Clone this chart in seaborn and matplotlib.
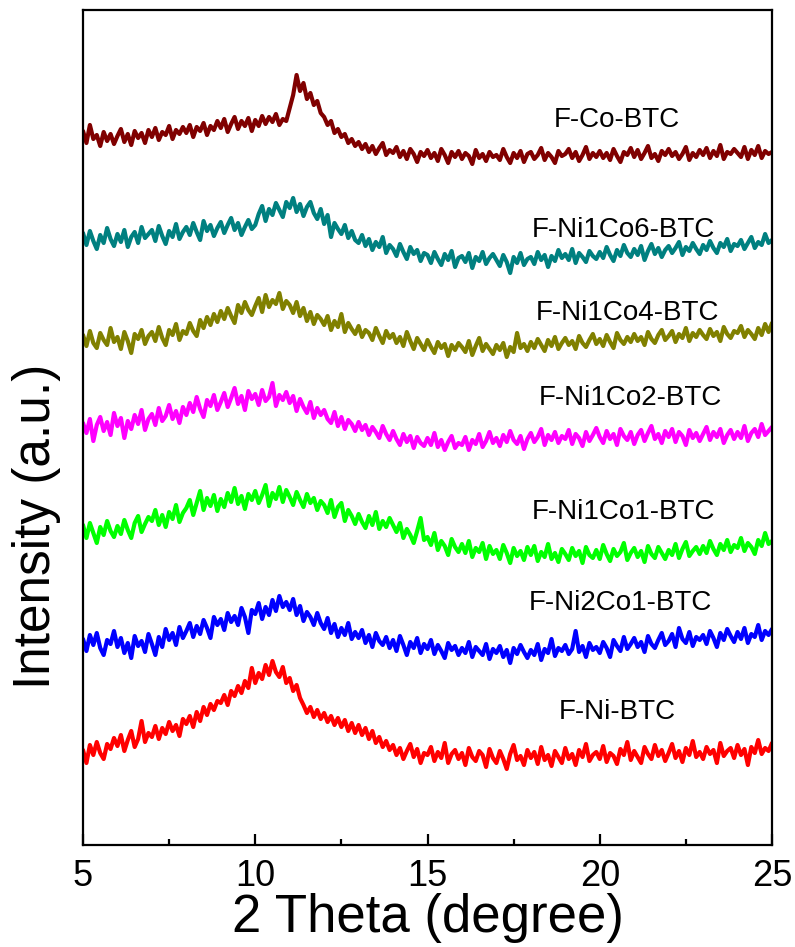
import numpy as np
import pandas as pd
import matplotlib
matplotlib.use("Agg")
import matplotlib.pyplot as plt
from matplotlib.ticker import MultipleLocator
import seaborn as sns

# 2 Theta grid (degree), step 0.1 from 5 to 25
two_theta = np.round(np.arange(5.0, 25.0001, 0.1), 1)

# Stacked intensities (a.u.)
f_ni_btc = [
    93, 80, 98, 88, 101, 90, 84, 99, 94, 105,
    97, 108, 92, 103, 112, 96, 104, 122, 101, 110,
    106, 117, 104, 115, 109, 121, 112, 118, 107, 124,
    119, 127, 116, 131, 122, 136, 128, 139, 133, 142,
    140, 148, 138, 152, 147, 157, 150, 162, 155, 175,
    160, 170, 164, 178, 168, 182, 171, 166, 176, 160,
    165, 152, 158, 145, 138, 130, 136, 126, 133, 124,
    130, 121, 127, 118, 125, 116, 123, 112, 120, 110,
    118, 108, 115, 104, 112, 100, 106, 96, 102, 93,
    98, 88, 95, 84, 92, 99, 86, 94, 80, 90,
    88, 96, 82, 91, 85, 100, 80, 89, 93, 84,
    90, 78, 95, 86, 82, 92, 88, 76, 94, 85,
    80, 92, 84, 74, 89, 98, 83, 87, 78, 93,
    85, 91, 79, 96, 83, 88, 77, 92, 86, 80,
    95, 84, 89, 78, 93, 86, 99, 82, 88, 91,
    84, 97, 81, 90, 87, 79, 94, 88, 101, 83,
    92, 86, 80, 96, 89, 84, 98, 87, 93, 82,
    90, 99, 85, 92, 81, 95, 88, 102, 86, 91,
    84, 96, 89, 93, 80, 100, 87, 92, 95, 85,
    98, 88, 94, 78, 96, 90, 103, 89, 95, 92,
    100,
]
f_ni2co1_btc = [
    204, 192, 208, 198, 210, 195, 188, 203, 199, 212,
    196, 205, 190, 200, 185, 207, 197, 202, 191, 209,
    199, 188, 206, 196, 214, 203, 210, 198, 216, 205,
    212, 220, 206, 217, 209, 223, 215, 205, 226, 218,
    224, 213, 230, 221, 227, 218, 235, 226, 210, 233,
    229, 240, 224, 236, 228, 243, 232, 247, 236, 241,
    233, 244, 228, 237, 222, 231, 226, 218, 230, 220,
    214, 225, 210, 219, 206, 215, 208, 220, 204, 211,
    205, 213, 200, 208, 196, 210, 202, 198, 206, 195,
    203, 192, 207, 198, 188, 201, 195, 205, 190, 199,
    194, 203, 189, 198, 192, 185, 200, 193, 197, 188,
    195, 190, 201, 186, 196, 192, 188, 199, 184, 194,
    190, 197, 186, 193, 180, 195, 189, 198, 191, 185,
    193, 188, 199, 183, 194, 190, 204, 187, 195, 192,
    198, 189, 194, 212, 191, 197, 186, 200, 193, 196,
    190, 201, 195, 186, 203, 197, 192, 206, 194, 199,
    205, 196, 201, 191, 207, 199, 195, 203, 210, 198,
    202, 209, 196, 215, 204, 200, 211, 197, 206, 203,
    208, 199, 212, 205, 196, 210, 203, 214, 207, 201,
    211, 204, 215, 200, 209, 206, 218, 203, 212, 208,
    214,
]
f_ni1co1_btc = [
    318, 305, 320, 310, 300, 316, 308, 322, 312, 306,
    317, 309, 323, 313, 305, 320, 327, 311, 319, 326,
    322, 333, 318, 328, 316, 331, 324, 338, 321, 330,
    335, 343, 328, 340, 352, 333, 345, 337, 348, 332,
    344, 336, 350, 341, 355, 339, 347, 334, 349, 343,
    352, 340, 348, 358, 337, 350, 344, 356, 341, 353,
    346, 338, 351, 343, 336, 349, 340, 345, 333, 342,
    338, 330, 343, 326, 336, 340, 322, 333, 327, 319,
    329, 321, 315, 327, 318, 331, 314, 322, 316, 325,
    318, 311, 320, 305, 314, 308, 300, 312, 325, 303,
    306, 298, 310, 293, 302, 297, 288, 304, 296, 291,
    299, 290, 302, 286, 295, 291, 300, 284, 297, 289,
    293, 284, 298, 290, 280, 295, 287, 292, 283, 296,
    288, 297, 282, 291, 286, 299, 284, 290, 281, 294,
    289, 283, 295, 287, 292, 280, 296, 288, 285, 293,
    284, 298, 289, 282, 294, 287, 291, 300, 283, 290,
    295, 286, 292, 281, 297, 289, 285, 296, 290, 284,
    293, 288, 299, 285, 294, 301, 287, 292, 296, 289,
    297, 290, 302, 294, 288, 299, 293, 303, 291, 298,
    295, 305, 292, 300, 296, 289, 303, 297, 310, 299,
    302,
]
f_ni1co2_btc = [
    420, 410, 424, 402, 418, 426, 412, 421, 408, 430,
    417, 425, 405, 422, 414, 428, 419, 433, 413, 424,
    429, 418, 435, 422, 427, 438, 424, 432, 420, 436,
    428, 440, 431, 446, 434, 426, 443, 437, 448, 433,
    441, 450, 436, 445, 455, 439, 447, 433, 452, 444,
    449, 438, 453, 442, 446, 460, 437, 448, 443, 451,
    440, 447, 432, 444, 436, 430, 441, 425, 435, 428,
    433, 424, 420, 431, 417, 426, 414, 423, 419, 412,
    421, 413, 418, 408, 416, 411, 405, 417, 409, 403,
    412, 404, 398, 409, 401, 407, 395, 406, 400, 397,
    405, 398, 410, 396, 403, 393, 401, 407, 395, 400,
    398, 406, 393, 403, 399, 409, 396, 402, 411, 400,
    405, 397, 408, 401, 412, 403, 399, 407, 394, 404,
    410, 401, 406, 414, 398, 408, 403, 411, 400, 407,
    404, 413, 399, 409, 405, 397, 411, 402, 408, 415,
    406, 400, 412, 404, 409, 398, 414, 407, 403, 411,
    399, 408, 413, 402, 410, 417, 404, 409, 400, 412,
    406, 414, 401, 411, 407, 398, 413, 405, 410, 402,
    409, 416, 403, 411, 406, 414, 400, 408, 413, 404,
    411, 405, 417, 402, 410, 414, 406, 419, 408, 412,
    416,
]
f_ni1co4_btc = [
    508, 497, 512, 500, 495, 510, 503, 498, 515, 501,
    506, 494, 511, 502, 490, 509, 504, 513, 499, 507,
    511, 502, 516, 505, 498, 513, 508, 519, 503, 512,
    509, 520, 512, 507, 523, 515, 526, 518, 529, 521,
    532, 524, 535, 527, 520, 538, 530, 541, 533, 528,
    537, 545, 531, 548, 536, 543, 539, 550, 534, 542,
    538, 530, 541, 527, 535, 522, 531, 519, 528, 524,
    518, 527, 513, 522, 516, 529, 511, 520, 514, 509,
    517, 506, 513, 510, 503, 515, 507, 500, 512, 505,
    509, 500, 506, 497, 511, 502, 494, 505, 499, 493,
    503, 496, 490, 501, 495, 499, 487, 498, 493, 500,
    496, 491, 502, 488, 497, 505, 492, 499, 494, 489,
    498, 493, 500, 486, 496, 491, 510, 495, 499, 492,
    501, 495, 504, 498, 492, 503, 497, 506, 494, 500,
    505, 498, 502, 494, 507, 500, 496, 503, 509, 499,
    504, 497, 508, 501, 495, 510, 503, 499, 506, 501,
    509, 502, 506, 498, 511, 504, 500, 508, 513, 503,
    507, 512, 501, 509, 505, 515, 502, 510, 506, 513,
    508, 504, 514, 507, 511, 502, 516, 509, 505, 512,
    510, 517, 506, 513, 509, 504, 515, 508, 519, 511,
    520,
]
f_ni1co6_btc = [
    610, 598, 612, 602, 594, 608, 600, 615, 604, 597,
    609, 601, 613, 596, 606, 611, 600, 616, 605, 609,
    613, 602, 617, 607, 599, 612, 606, 619, 604, 611,
    616, 608, 620, 611, 603, 622, 612, 618, 607, 615,
    621, 610, 618, 625, 613, 620, 608, 616, 623, 614,
    618, 629, 637, 622, 634, 628, 640, 633, 626, 641,
    635, 645, 631, 639, 627, 636, 641, 630, 624, 634,
    619, 628, 606, 620, 614, 609, 618, 605, 612, 603,
    600, 608, 597, 604, 593, 601, 596, 606, 590, 598,
    594, 587, 599, 591, 584, 596, 589, 593, 582, 590,
    588, 580, 591, 584, 578, 589, 583, 592, 576, 585,
    587, 581, 590, 575, 586, 582, 591, 579, 585, 589,
    583, 577, 588, 581, 570, 586, 580, 590, 578, 584,
    586, 579, 591, 583, 588, 576, 587, 582, 593, 585,
    589, 583, 594, 580, 590, 586, 581, 592, 587, 584,
    591, 585, 596, 588, 582, 593, 587, 598, 590, 586,
    594, 588, 597, 583, 592, 599, 589, 595, 586, 593,
    597, 590, 595, 601, 588, 596, 592, 600, 594, 589,
    598, 593, 602, 595, 590, 600, 596, 604, 592, 599,
    597, 603, 594, 600, 606, 595, 601, 598, 609, 600,
    603,
]
f_co_btc = [
    712, 700, 718, 704, 708, 697, 711, 702, 709, 699,
    707, 714, 701, 709, 698, 712, 705, 710, 700, 713,
    706, 715, 703, 711, 708, 717, 704, 713, 709, 716,
    710, 718, 706, 716, 712, 720, 708, 717, 713, 722,
    715, 724, 711, 719, 726, 714, 722, 717, 725, 712,
    723, 717, 727, 719, 726, 721, 729, 718, 724, 722,
    735, 748, 768, 752, 760, 744, 750, 738, 742, 730,
    726, 718, 722, 710, 714, 706, 709, 700, 704, 697,
    701, 694, 699, 691, 697, 689, 695, 700, 688, 693,
    690, 696, 686, 692, 684, 694, 689, 681, 691, 687,
    693, 685, 690, 682, 694, 688, 680, 691, 686, 692,
    684, 690, 687, 679, 693, 685, 689, 682, 691, 686,
    688, 683, 694, 686, 680, 690, 685, 692, 681, 689,
    691, 684, 688, 695, 683, 690, 686, 680, 692, 687,
    689, 694, 685, 691, 682, 688, 696, 684, 690, 686,
    692, 685, 690, 683, 694, 687, 681, 691, 688, 695,
    686, 693, 684, 690, 697, 685, 689, 682, 692, 688,
    694, 687, 691, 684, 689, 696, 683, 690, 686, 693,
    688, 695, 685, 692, 687, 698, 684, 691, 689, 694,
    690, 686, 696, 684, 693, 688, 697, 685, 692, 689,
    691,
]

sample_names = ["F-Ni-BTC", "F-Ni2Co1-BTC", "F-Ni1Co1-BTC", "F-Ni1Co2-BTC",
                "F-Ni1Co4-BTC", "F-Ni1Co6-BTC", "F-Co-BTC"]
sample_values = [f_ni_btc, f_ni2co1_btc, f_ni1co1_btc, f_ni1co2_btc,
                 f_ni1co4_btc, f_ni1co6_btc, f_co_btc]
sample_colors = ["#FF0000", "#0000FF", "#00FF00", "#FF00FF",
                 "#808000", "#008080", "#800000"]
# label anchor (2theta, intensity)
label_x = [20.5, 20.6, 20.7, 20.9, 20.8, 20.7, 20.5]
label_y = [131, 240, 331, 445, 530, 613, 723]

x_ticks = [5, 10, 15, 20, 25]

sns.set_theme(style="ticks")
plt.rcParams["font.family"] = ["Liberation Sans", "DejaVu Sans"]
plt.rcParams["text.color"] = "black"
plt.rcParams["axes.labelcolor"] = "black"
plt.rcParams["xtick.color"] = "black"
plt.rcParams["ytick.color"] = "black"

frames = []
for name, vals in zip(sample_names, sample_values):
    frames.append(pd.DataFrame({"two_theta": two_theta, "intensity": vals, "sample": name}))
df = pd.concat(frames, ignore_index=True)

fig = plt.figure(figsize=(7.95, 9.47), dpi=100)
ax = fig.add_axes([83 / 795, (947 - 845) / 947, (772 - 83) / 795, (845 - 10) / 947])

sns.lineplot(data=df, x="two_theta", y="intensity", hue="sample",
             hue_order=sample_names, palette=sample_colors,
             estimator=None, sort=False, linewidth=3.0, legend=False, ax=ax)

for name, lx, ly in zip(sample_names, label_x, label_y):
    ax.text(lx, ly, name, fontsize=20, ha="center", va="center", color="black")

ax.set_xlim(5, 25)
ax.set_ylim(-2, 833)
ax.set_xticks(x_ticks)
ax.set_xticklabels([str(t) for t in x_ticks])
ax.xaxis.set_minor_locator(MultipleLocator(2.5))
ax.set_yticks([])
ax.tick_params(axis="x", which="major", direction="in", length=8, width=1.6,
               labelsize=26, pad=10, top=False, labelcolor="black")
ax.tick_params(axis="x", which="minor", direction="in", length=4.5, width=1.6, top=False)
for s in ax.spines.values():
    s.set_visible(True)
    s.set_linewidth(1.6)
    s.set_color("black")

ax.set_xlabel("2 Theta (degree)", fontsize=38, labelpad=-1, color="black")
ax.set_ylabel("Intensity (a.u.)", fontsize=37, color="black")
ax.yaxis.set_label_coords(-0.032, 0.381)

fig.savefig("out.png", dpi=100)
